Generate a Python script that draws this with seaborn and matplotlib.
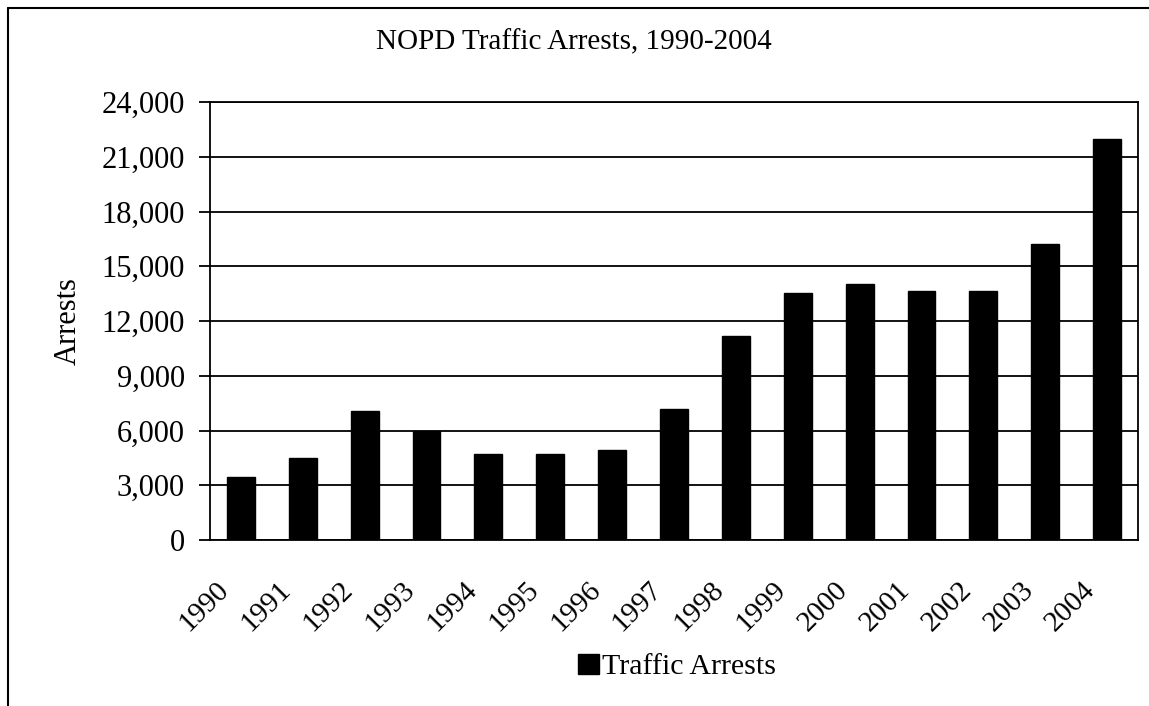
import numpy as np
import pandas as pd
import matplotlib
matplotlib.use("Agg")
import matplotlib.pyplot as plt
import matplotlib.transforms as mtransforms
import seaborn as sns
from matplotlib.lines import Line2D
from matplotlib.patches import Patch
from matplotlib.ticker import FuncFormatter, FixedLocator

# data
years = ['1990', '1991', '1992', '1993', '1994', '1995', '1996', '1997',
         '1998', '1999', '2000', '2001', '2002', '2003', '2004']
arrests = [3450, 4470, 7070, 6000, 4730, 4700, 4940, 7170,
           11190, 13560, 14030, 13670, 13630, 16230, 21970]
y_ticks = [0, 3000, 6000, 9000, 12000, 15000, 18000, 21000, 24000]

sns.set_style("white")
plt.rcParams['font.family'] = ['Liberation Serif', 'DejaVu Serif']
plt.rcParams['text.color'] = 'black'
plt.rcParams['xtick.color'] = 'black'
plt.rcParams['ytick.color'] = 'black'
plt.rcParams['axes.labelcolor'] = 'black'

df = pd.DataFrame({'year': years, 'arrests': arrests})

fig = plt.figure(figsize=(11.49, 7.06), dpi=100)
W, H = 1149, 706
ax = fig.add_axes([210 / W, 1 - 540 / H, (1138 - 210) / W, (540 - 102) / H])

sns.barplot(data=df, x='year', y='arrests', color='black', width=0.45,
            saturation=1, ax=ax, edgecolor='black')

ax.set_xlim(-0.5, len(years) - 0.5)
ax.set_ylim(0, 24000)
ax.set_yticks(y_ticks)
ax.yaxis.set_major_formatter(FuncFormatter(lambda v, p: f'{int(v):,}'))
ax.grid(axis='y', color='black', lw=1.3)
ax.set_axisbelow(True)

for s in ax.spines.values():
    s.set_visible(True)
    s.set_color('black')
    s.set_linewidth(1.3)

# tick marks on category boundaries, labels at centres
ax.xaxis.set_minor_locator(FixedLocator(np.arange(-0.5, len(years), 1.0)))
ax.tick_params(axis='x', which='major', length=0, pad=14, labelsize=21)
ax.tick_params(axis='x', which='minor', length=6.5, width=1.3, color='black', direction='out')
ax.tick_params(axis='y', length=8, width=1.3, color='black', direction='out',
               left=True, labelsize=22, pad=10)
shift = mtransforms.ScaledTranslation(-25 / 100, -17 / 100, fig.dpi_scale_trans)
for lab in ax.get_xticklabels():
    lab.set_rotation(45)
    lab.set_ha('right')
    lab.set_rotation_mode('anchor')
    lab.set_transform(lab.get_transform() + shift)

ax.set_xlabel('')
ax.set_ylabel('')
fig.text(68 / W, 1 - 321 / H, 'Arrests', rotation=90, ha='center', va='center', fontsize=22)
fig.text(574 / W, 1 - 42 / H, 'NOPD Traffic Arrests, 1990-2004',
         ha='center', va='center', fontsize=21)

handles = [Patch(facecolor='black', edgecolor='black', label='Traffic Arrests')]
fig.legend(handles=handles, loc='center', bbox_to_anchor=(677 / W, 1 - 667 / H),
           frameon=False, fontsize=21.5, handlelength=0.7, handleheight=0.7,
           handletextpad=0.1)

# outer chart frame (runs off the right and bottom edges)
fig.add_artist(Line2D([8 / W, 1.0], [1 - 8 / H, 1 - 8 / H], color='black', lw=1.5,
                      transform=fig.transFigure))
fig.add_artist(Line2D([8 / W, 8 / W], [1 - 8 / H, 0.0], color='black', lw=1.5,
                      transform=fig.transFigure))

fig.savefig('out.png', dpi=100)
